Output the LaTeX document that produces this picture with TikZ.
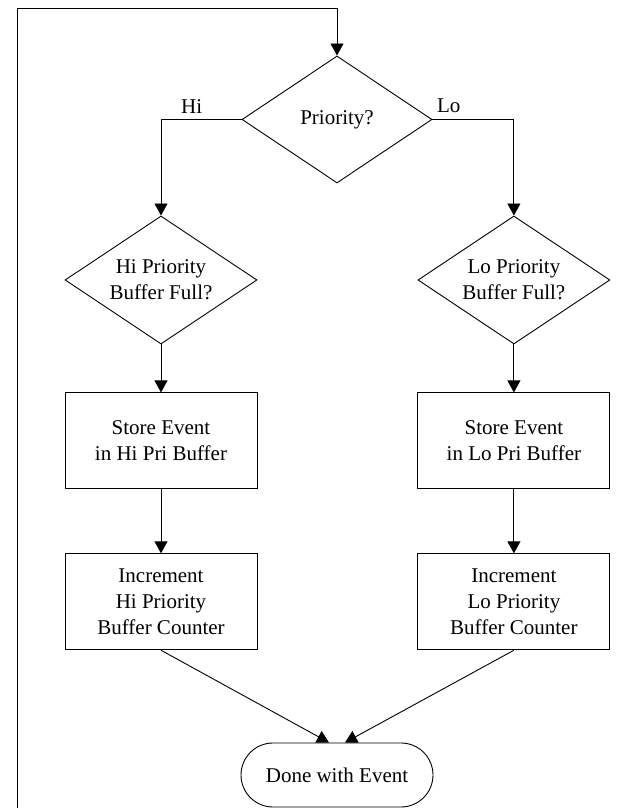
\documentclass[tikz,border=0pt]{standalone}
\usepackage{fontspec}
\setmainfont{Liberation Serif}
\usetikzlibrary{arrows.meta,positioning,shapes.geometric,shapes.misc}

\begin{document}
\begin{tikzpicture}[x=1pt,y=1pt,node distance=48pt,line width=0.9pt,
  every node/.style={font=\fontsize{21}{26}\selectfont,align=center,inner sep=0pt},
  decision/.style={diamond,draw,aspect=1.5,minimum width=192pt,minimum height=128pt},
  block/.style={rectangle,draw,minimum width=192pt,minimum height=96pt},
  term/.style={rounded rectangle,draw,minimum width=192pt,minimum height=64pt},
  arr/.style={-{Triangle[length=12pt,width=13pt]}}]
\useasboundingbox (0,0) rectangle (621,808);
\node[decision,minimum width=190pt,minimum height=127pt] (prio) at (337,688.5) {Priority?};
\node[decision] (hifull) at (161,528) {Hi Priority\\Buffer Full?};
\node[decision] (lofull) [right=160pt of hifull] {Lo Priority\\Buffer Full?};
\node[block] (histore) [below=of hifull] {Store Event\\in Hi Pri Buffer};
\node[block] (lostore) [below=of lofull] {Store Event\\in Lo Pri Buffer};
\node[block] (hiinc) [below=64pt of histore] {Increment\\Hi Priority\\Buffer Counter};
\node[block] (loinc) [below=64pt of lostore] {Increment\\Lo Priority\\Buffer Counter};
\node[term] (done) at (337,33) {Done with Event};
\coordinate (loopin) at (17,0);
\coordinate (looptop) at (17,800);
\draw[arr] (loopin) -- (looptop) -| (prio.north);
\draw[arr] (prio.west) -| node[pos=0.31,above=6pt] (hilabel) {Hi} (hifull.north);
\draw[arr] (prio.east) -| node[pos=0.1,above=6pt] (lolabel) {Lo} (lofull.north);
\draw[arr] (hifull.south) -- (histore.north);
\draw[arr] (lofull.south) -- (lostore.north);
\draw[arr] (histore.south) -- (hiinc.north);
\draw[arr] (lostore.south) -- (loinc.north);
\draw[arr] (hiinc.south) -- ([xshift=-8pt]done.north);
\draw[arr] (loinc.south) -- ([xshift=8pt]done.north);
\end{tikzpicture}
\end{document}
